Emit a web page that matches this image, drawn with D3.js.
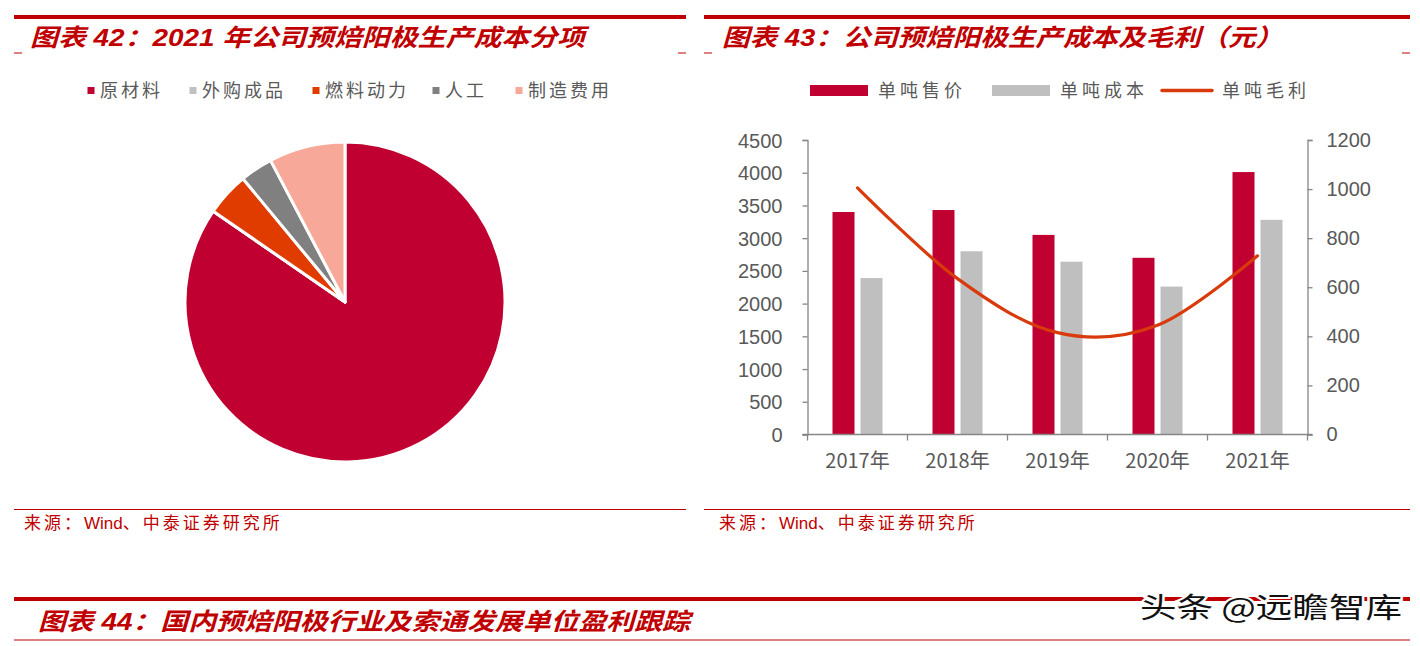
<!DOCTYPE html>
<html><head><meta charset="utf-8">
<script src="https://cdn.jsdelivr.net/npm/d3@7/dist/d3.min.js"></script>
<style>
html,body{margin:0;padding:0;background:#fff;}
svg{display:block;}
</style></head>
<body>
<svg id="c" width="1420" height="646"></svg>
<script>
// ---- data ----
const pieCategories = ["原材料", "外购成品", "燃料动力", "人工", "制造费用"];
const pieValues = [84.6, 0, 4.4, 3.3, 7.7];
const pieColors = ["#BF0030", "#C0C0C0", "#E03C00", "#808080", "#F8A898"];

const years = ["2017年", "2018年", "2019年", "2020年", "2021年"];
const pricePerTon = [3400, 3430, 3050, 2700, 4010];
const costPerTon = [2390, 2800, 2640, 2260, 3280];
const grossPerTon = [1005, 635, 415, 445, 728];
const leftTicks = [0, 500, 1000, 1500, 2000, 2500, 3000, 3500, 4000, 4500];
const rightTicks = [0, 200, 400, 600, 800, 1000, 1200];
const barSeries = ["单吨售价", "单吨成本", "单吨毛利"];

const titles = ["图表 42：2021 年公司预焙阳极生产成本分项", "图表 43：公司预焙阳极生产成本及毛利（元）", "图表 44：国内预焙阳极行业及索通发展单位盈利跟踪"];
const sourceParts = ["来源：", "Wind", "、中泰证券研究所"];
const watermark = "头条 @远瞻智库";

// ---- drawing ----
const svg = d3.select("#c");
const RED = "#C00000";
const TXT = "#595959";
const SANS = "'Liberation Sans', Arial, 'Noto Sans CJK SC', sans-serif";
const CJK = "'Noto Sans CJK SC', 'Liberation Sans', sans-serif";

function rule(x1, x2, y, w) {
  svg.append("line").attr("x1", x1).attr("x2", x2).attr("y1", y).attr("y2", y)
    .attr("stroke", RED).attr("stroke-width", w);
}
function title(text, x, y, len) {
  svg.append("text").attr("x", x).attr("y", y).text(text)
    .attr("font-family", SANS).attr("font-weight", "bold").attr("font-style", "italic")
    .attr("font-size", 24).attr("fill", RED)
    .attr("textLength", len).attr("lengthAdjust", "spacingAndGlyphs");
}
function source(x, y) {
  const t = svg.append("text").attr("x", x).attr("y", y)
    .attr("font-family", CJK).attr("font-size", 17).attr("fill", RED);
  sourceParts.forEach((p, i) => {
    t.append("tspan").text(p)
      .attr("font-family", i === 1 ? SANS : CJK)
      .attr("letter-spacing", i === 1 ? 0 : 3);
  });
}

// panel frames
rule(14, 686, 17, 4);
rule(704, 1410, 17, 4);
rule(14, 22, 53, 1);
rule(678, 686, 53, 1);
rule(704, 712, 53, 1);
rule(1402, 1410, 53, 1);
title(titles[0], 30, 46, 555);
title(titles[1], 722, 46, 561);

rule(14, 686, 509.5, 1.2);
rule(704, 1410, 509.5, 1.2);
source(24, 529);
source(719, 529);

rule(14, 1410, 599, 4);
rule(14, 1410, 640, 1.2);
title(titles[2], 38, 630, 652);

// ---- pie ----
const pieLegendX = [91, 193, 316, 436, 519];
pieCategories.forEach((c, i) => {
  svg.append("rect").attr("x", pieLegendX[i] - 3.5).attr("y", 87).attr("width", 7).attr("height", 7)
    .attr("fill", pieColors[i]);
  svg.append("text").attr("x", pieLegendX[i] + 9).attr("y", 97).text(c)
    .attr("font-family", CJK).attr("font-size", 18).attr("fill", TXT)
    .attr("letter-spacing", 3);
});
const pie = d3.pie().sort(null).startAngle(0).endAngle(2 * Math.PI)(pieValues);
const arc = d3.arc().innerRadius(0).outerRadius(160);
const gp = svg.append("g").attr("transform", "translate(345,302)");
gp.selectAll("path").data(pie).enter().append("path")
  .attr("d", arc).attr("fill", (d, i) => pieColors[i])
  .attr("stroke", "#fff").attr("stroke-width", 3).attr("stroke-linejoin", "round");

// ---- combo chart ----
const x0 = 807.5, x1 = 1307.5, yTop = 140, yBot = 434.5;
const x = d3.scaleBand().domain(years).range([x0, x1]).paddingInner(0).paddingOuter(0);
const xs = d3.scaleBand().domain(["p", "c"]).range([25, 75]).paddingInner(6 / 28);
const yL = d3.scaleLinear().domain([0, 4500]).range([yBot, yTop]);
const yR = d3.scaleLinear().domain([0, 1200]).range([yBot, yTop]);

const g = svg.append("g");
g.selectAll("rect.p").data(years).enter().append("rect")
  .attr("x", (d) => x(d) + xs("p")).attr("width", xs.bandwidth())
  .attr("y", (d, i) => yL(pricePerTon[i])).attr("height", (d, i) => yBot - yL(pricePerTon[i]))
  .attr("fill", "#BF0030");
g.selectAll("rect.c").data(years).enter().append("rect")
  .attr("x", (d) => x(d) + xs("c")).attr("width", xs.bandwidth())
  .attr("y", (d, i) => yL(costPerTon[i])).attr("height", (d, i) => yBot - yL(costPerTon[i]))
  .attr("fill", "#BFBFBF");

// axes
const axisColor = "#868686";
function styleAxis(sel) {
  sel.selectAll("path,line").attr("stroke", axisColor).attr("stroke-width", 1.3);
  sel.selectAll("text").attr("fill", TXT).attr("font-family", SANS).attr("font-size", 20);
}
const axL = svg.append("g").attr("transform", `translate(${x0},0)`)
  .call(d3.axisLeft(yL).tickValues(leftTicks).tickSize(5).tickSizeOuter(5).tickPadding(20).tickFormat(d3.format("d")));
styleAxis(axL);
axL.selectAll("text").attr("dy", "0.35em");
const axR = svg.append("g").attr("transform", `translate(${x1},0)`)
  .call(d3.axisRight(yR).tickValues(rightTicks).tickSize(5).tickSizeOuter(5).tickPadding(14).tickFormat(d3.format("d")));
styleAxis(axR);
const axB = svg.append("g").attr("transform", `translate(0,${yBot})`)
  .call(d3.axisBottom(x).tickSize(0).tickSizeOuter(0).tickPadding(19));
styleAxis(axB);
axB.select("path").remove();
axB.selectAll("text").attr("font-family", CJK).attr("font-size", 20).attr("dy", "0.71em");
// bottom baseline + ticks at category boundaries
svg.append("line").attr("x1", x0 - 5).attr("x2", x1 + 5).attr("y1", yBot).attr("y2", yBot)
  .attr("stroke", axisColor).attr("stroke-width", 1.3);
const bounds = years.map((d) => x(d)).concat([x1]);
svg.selectAll("line.bt").data(bounds).enter().append("line")
  .attr("x1", (d) => d).attr("x2", (d) => d).attr("y1", yBot).attr("y2", yBot + 6)
  .attr("stroke", axisColor).attr("stroke-width", 1.3);

// smoothed line
const line = d3.line()
  .x((d, i) => x(years[i]) + x.bandwidth() / 2)
  .y((d) => yR(d))
  .curve(d3.curveCardinal.tension(0));
svg.append("path").attr("d", line(grossPerTon)).attr("fill", "none")
  .attr("stroke", "#D93A0B").attr("stroke-width", 3.2).attr("stroke-linecap", "round");

// right legend
const legX = [810, 992, 1162];
const legColors = ["#BF0030", "#BFBFBF", "#D93A0B"];
barSeries.forEach((s, i) => {
  if (i < 2) {
    svg.append("rect").attr("x", legX[i]).attr("y", 85).attr("width", 58).attr("height", 11).attr("fill", legColors[i]);
  } else {
    svg.append("line").attr("x1", legX[i]).attr("x2", legX[i] + 50).attr("y1", 90.5).attr("y2", 90.5)
      .attr("stroke", legColors[i]).attr("stroke-width", 3.5).attr("stroke-linecap", "round");
  }
  svg.append("text").attr("x", legX[i] + (i < 2 ? 68 : 60)).attr("y", 97).text(s)
    .attr("font-family", CJK).attr("font-size", 18).attr("fill", TXT)
    .attr("letter-spacing", 4);
});

// watermark
svg.append("text").attr("x", 1140).attr("y", 618).text(watermark)
  .attr("font-family", CJK).attr("font-size", 28).attr("fill", "#111")
  .attr("stroke", "#fff").attr("stroke-width", 4).attr("paint-order", "stroke")
  .attr("textLength", 262).attr("lengthAdjust", "spacingAndGlyphs");
</script>
</body></html>
